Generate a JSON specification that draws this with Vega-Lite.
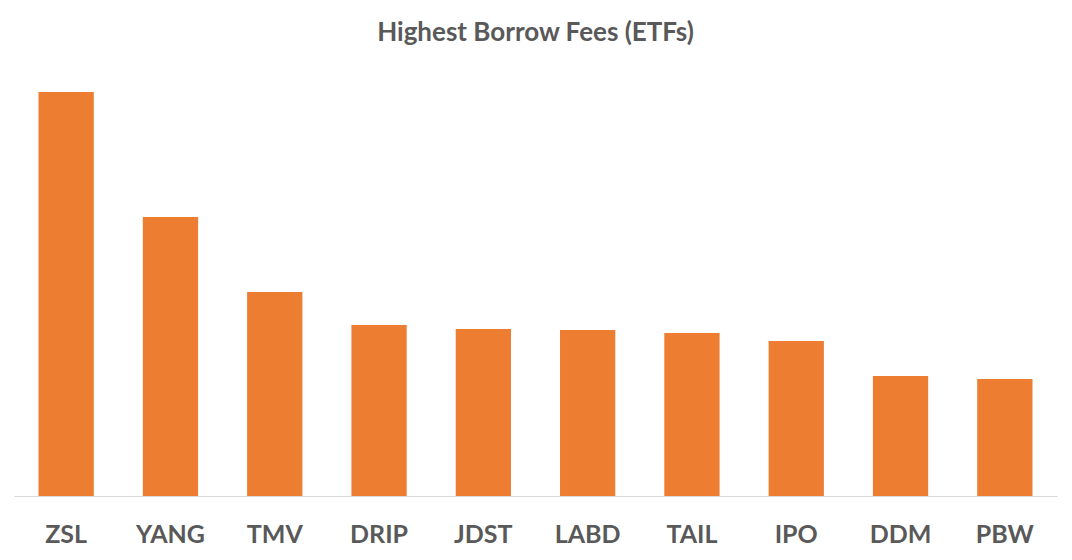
{
  "$schema": "https://vega.github.io/schema/vega-lite/v6.json",
  "width": 1043,
  "height": 436,
  "padding": {"left": 14, "right": 15, "top": 20, "bottom": 0},
  "autosize": {"type": "pad"},
  "background": "white",
  "title": {
    "text": "Highest Borrow Fees (ETFs)",
    "font": "Lato",
    "fontSize": 26,
    "fontWeight": "bold",
    "color": "#595959",
    "anchor": "middle",
    "offset": 14
  },
  "data": {
    "values": [
      {"fund": "ZSL", "fee": 404},
      {"fund": "YANG", "fee": 279},
      {"fund": "TMV", "fee": 204},
      {"fund": "DRIP", "fee": 171},
      {"fund": "JDST", "fee": 167},
      {"fund": "LABD", "fee": 166},
      {"fund": "TAIL", "fee": 163},
      {"fund": "IPO", "fee": 155},
      {"fund": "DDM", "fee": 120},
      {"fund": "PBW", "fee": 117}
    ]
  },
  "mark": {"type": "bar", "color": "#ED7D31"},
  "encoding": {
    "x": {
      "field": "fund",
      "type": "nominal",
      "sort": null,
      "scale": {"paddingInner": 0.47, "paddingOuter": 0.235},
      "axis": {
        "title": null,
        "labelAngle": 0,
        "ticks": false,
        "domainColor": "#D9D9D9",
        "domainWidth": 1,
        "labelFont": "Lato",
        "labelFontSize": 25,
        "labelFontWeight": "bold",
        "labelColor": "#595959",
        "labelPadding": 26
      }
    },
    "y": {
      "field": "fee",
      "type": "quantitative",
      "scale": {"domain": [0, 436], "nice": false},
      "axis": null
    }
  },
  "config": {
    "view": {"stroke": null}
  }
}
